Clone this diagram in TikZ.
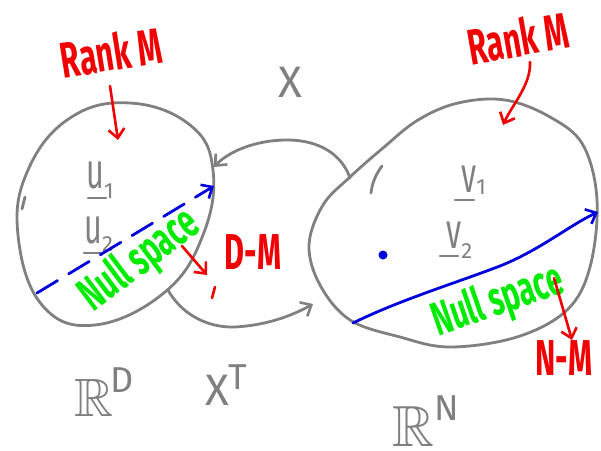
\documentclass[tikz,border=0pt]{standalone}
\usepackage{fontspec}
\usepackage{amssymb}
\usepackage{graphicx}
\setmainfont{Fira Sans}
\usetikzlibrary{arrows.meta}
\definecolor{pen}{RGB}{128,128,128}
\definecolor{redpen}{RGB}{240,0,0}
\definecolor{bluepen}{RGB}{0,0,220}
\definecolor{greenpen}{RGB}{0,235,0}
\newcommand{\tallt}[1]{\scalebox{0.85}[1.4]{#1}}
\tikzset{
  grayline/.style={draw=pen,line width=2.8pt,line cap=round,line join=round},
  redline/.style={draw=redpen,line width=2.6pt,line cap=round,line join=round},
  blueline/.style={draw=bluepen,line width=2.8pt,line cap=round},
  lbl/.style={inner sep=0pt,font=\fontsize{36}{38}\selectfont},
  graylbl/.style={lbl,text=pen},
  redlbl/.style={lbl,text=redpen,font=\fontsize{36}{38}\selectfont\bfseries},
  greenlbl/.style={lbl,text=greenpen,font=\fontsize{34}{36}\selectfont\bfseries},
  barb/.style={-{Straight Barb[length=9pt,width=16pt,line width=2.6pt]}},
}
\begin{document}
\begin{tikzpicture}[x=1pt,y=-1pt]
\useasboundingbox (0,0) rectangle (601,450);
% left space
\draw[grayline] plot[smooth cycle,tension=0.7] coordinates {(130,103) (190,125) (213,170) (203,235) (165,292) (95,325) (42,305) (18,235) (28,170) (70,118)};
% right space
\draw[grayline] plot[smooth cycle,tension=0.6] coordinates {(309,245) (323,205) (350,177) (383,148) (418,120) (458,103) (505,100) (550,117) (583,145) (597,200) (590,267) (567,310) (517,337) (450,347) (400,337) (350,320) (320,285)};
% maps
\coordinate (xs) at (350,178);
\coordinate (xe) at (214,167);
\draw[grayline,barb] (xs) .. controls (342,155) and (320,140) .. (287,140) .. controls (255,140) and (228,152) .. (xe);
\coordinate (ts) at (168,290);
\coordinate (te) at (313,304);
\draw[grayline,barb] (ts) .. controls (180,312) and (205,328) .. (235,327) .. controls (270,325) and (295,314) .. (te);
% small marks
\draw[grayline] (382,166) .. controls (376,174) and (372,183) .. (371,193);
\draw[grayline] (22,209) -- (25,197);
% labels
\node[graylbl,font=\fontsize{44}{46}\selectfont] (X) at (290,82) {X};
\node[graylbl,font=\fontsize{44}{46}\selectfont,anchor=base west] (XT) at (205,405) {X\raisebox{16pt}{\fontsize{36}{38}\selectfont T}};
\node[graylbl,font=\fontsize{54}{56}\selectfont,anchor=base west] (RD) at (74,416) {$\mathbb{R}$\hspace{-3pt}\raisebox{24pt}{\fontsize{36}{38}\selectfont D}};
\node[graylbl,font=\fontsize{58}{60}\selectfont,anchor=base west] (RN) at (392,446) {$\mathbb{R}$\raisebox{26pt}{\fontsize{36}{38}\selectfont N}};
\node[graylbl,anchor=base west] (u1) at (86,188) {\tallt{u}\raisebox{-10pt}{\fontsize{22}{24}\selectfont 1}};
\node[graylbl,anchor=base west] (u2) at (84,243) {\tallt{u}\raisebox{-8pt}{\fontsize{22}{24}\selectfont 2}};
\node[graylbl,anchor=base west] (v1) at (461,192) {\tallt{v}\raisebox{-2pt}{\fontsize{22}{24}\selectfont 1}};
\node[graylbl,anchor=base west] (v2) at (446,248) {\tallt{v}\raisebox{-10pt}{\fontsize{22}{24}\selectfont 2}};
\draw[grayline,line width=2.4pt] (88,198) -- (106,198);
\draw[grayline,line width=2.4pt] (84,253) -- (102,253);
\draw[grayline,line width=2.4pt] (455,200) -- (474,200);
\draw[grayline,line width=2.4pt] (440,256) -- (458,256);
% rank labels
\node[redlbl,rotate=9] (rk1) at (111,52) {\tallt{Rank M}};
\node[redlbl,rotate=10] (rk2) at (518,38) {\tallt{Rank M}};
\coordinate (rk1a) at (110,86);
\coordinate (rk1b) at (118,140);
\draw[redline,barb] (rk1a) -- (rk1b);
\coordinate (rk2a) at (530,62);
\coordinate (rk2b) at (503,125);
\draw[redline,barb] (rk2a) .. controls (531,85) and (512,105) .. (rk2b);
% null spaces
\coordinate (nl1) at (37,293);
\coordinate (nl2) at (214,186);
\draw[blueline,dash pattern=on 24pt off 13pt,barb] (nl1) -- (nl2);
\coordinate (nr1) at (353,323);
\coordinate (nr2) at (598,212);
\draw[blueline,barb] (nr1) .. controls (400,300) and (450,285) .. (500,266) .. controls (540,250) and (570,225) .. (nr2);
\fill[bluepen] (383,255) circle (4.5pt);
\node[greenlbl,rotate=37] (ns1) at (140,261) {\tallt{Null space}};
\node[greenlbl,rotate=19] (ns2) at (498,302) {\tallt{Null space}};
% dimension labels
\node[redlbl] (dm) at (253,252) {\tallt{D-M}};
\coordinate (dma) at (182,246);
\coordinate (dmb) at (207,275);
\draw[redline,barb] (dma) -- (dmb);
\draw[redline] (215,287) -- (212,298);
\node[redlbl] (nm) at (564,358) {\tallt{N-M}};
\coordinate (nma) at (554,278);
\coordinate (nmb) at (572,340);
\draw[redline,barb] (nma) -- (nmb);
\end{tikzpicture}
\end{document}
